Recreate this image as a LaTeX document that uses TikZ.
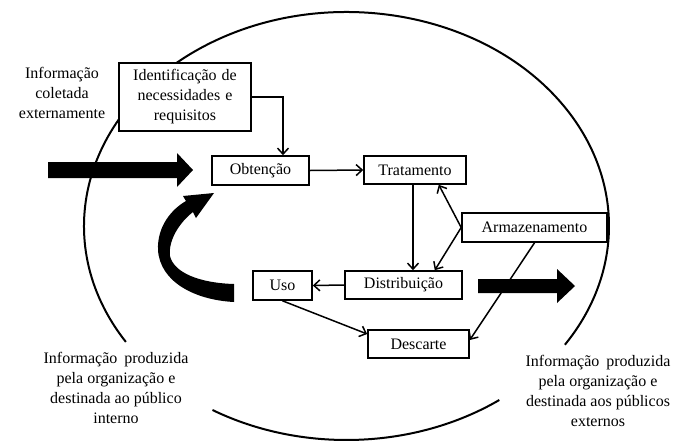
\documentclass[tikz,border=0pt]{standalone}
\usepackage{fontspec}
\setmainfont{Liberation Serif}
\usetikzlibrary{arrows.meta,calc}
\tikzset{
  box/.style={draw, line width=1.6pt, fill=white, inner sep=0pt, align=center},
  arr/.style={line width=1.5pt, -{Straight Barb[length=6pt,width=11pt,line width=1.5pt]}},
  ell/.style={line width=2pt},
  lbl/.style={align=center, inner sep=0pt},
  bigarrow/.style={fill=black, draw=none}
}
\begin{document}
\begin{tikzpicture}[x=1pt,y=-1pt,font=\fontsize{16}{20}\selectfont]
\useasboundingbox (0,0) rectangle (674,445);
% ellipse (two visible arcs)
\draw[ell] (346.5,226) ++(147.2:262.5 and 214) arc[start angle=147.2, end angle=393.7, x radius=262.5, y radius=214];
\draw[ell] (346.5,226) ++(54.4:262.5 and 214) arc[start angle=54.4, end angle=120.7, x radius=262.5, y radius=214];
% big arrows
\fill[bigarrow] (48,162) -- (177,162) -- (177,153) -- (193,170) -- (177,187) -- (177,178) -- (48,178) -- cycle;
\fill[bigarrow] (478,279) -- (557,279) -- (557,269) -- (575,286) -- (557,303) -- (557,293) -- (478,293) -- cycle;
\fill[bigarrow] (234,302) .. controls (195,300) and (160,282) .. (158,250)
  .. controls (157,226) and (172,209) .. (186,201) -- (183,196) -- (214,193) -- (196,218) -- (193,212)
  .. controls (180,222) and (168,240) .. (170,256)
  .. controls (174,273) and (200,283) .. (234,284) -- cycle;
% boxes
\node[box, minimum width=132pt, minimum height=68pt] (ident) at (185,97) {Identificação\hspace{5pt}de\\necessidades\hspace{5pt}e\\requisitos};
\node[box, minimum width=97pt, minimum height=29pt] (obt) at (260.5,170.5) {Obtenção};
\node[box, minimum width=102pt, minimum height=28pt] (trat) at (415,170) {Tratamento};
\node[box, minimum width=145pt, minimum height=29pt] (arm) at (534.5,227.5) {Armazenamento};
\node[box, minimum width=117pt, minimum height=28pt] (dist) at (403.5,285) {Distribuição};
\node[box, minimum width=59pt, minimum height=29pt] (uso) at (282.5,285.5) {Uso};
\node[box, minimum width=101pt, minimum height=28pt] (desc) at (418.5,344) {Descarte};
% labels
\node[lbl] (l1) at (62,93) {Informação\\coletada\\externamente};
\node[lbl] (l2) at (116,388) {Informação\hspace{7pt}produzida\\pela organização\hspace{4pt}e\\destinada\hspace{4pt}ao público\\interno};
\node[lbl] (l3) at (598,391) {Informação\hspace{7pt}produzida\\pela organização\hspace{4pt}e\\destinada\hspace{4pt}aos públicos\\externos};
% connectors
\coordinate (kx) at (283,0);
\coordinate (tx) at (413,0);
\draw[arr] (ident.east) -| (kx |- obt.north);
\draw[arr] (obt.east) -- (trat.west);
\draw[arr] (tx |- trat.south) -- (tx |- dist.north);
\draw[arr] (arm.west) -- ($(trat.south east)+(-28,0)$);
\draw[arr] (arm.west) -- ($(dist.north east)+(-28,0)$);
\draw[arr] (dist.west) -- (uso.east);
\draw[arr] (uso.south) -- ($(desc.west)+(0,-10)$);
\draw[arr] (arm.south) -- ($(desc.east)+(0,-4)$);
\end{tikzpicture}
\end{document}
